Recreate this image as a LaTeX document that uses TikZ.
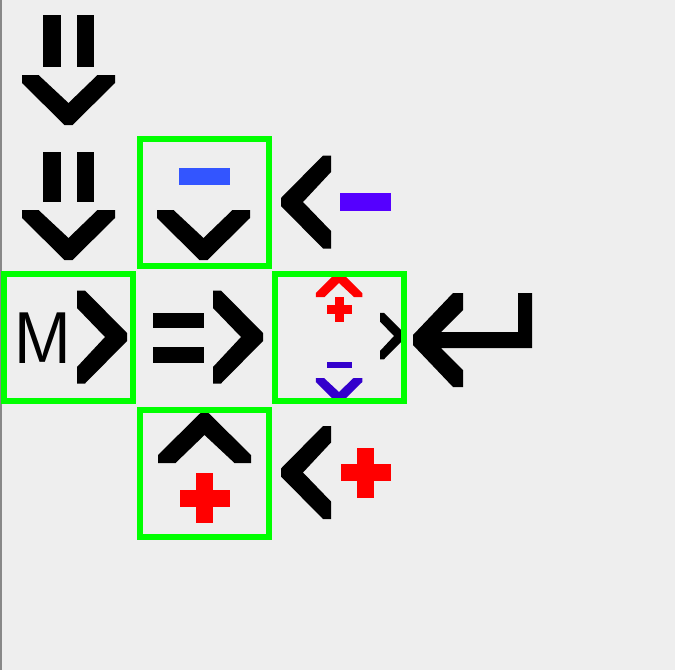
\documentclass[tikz,border=0pt]{standalone}
\usetikzlibrary{positioning}
\definecolor{bgGray}{HTML}{EEEEEE}
\definecolor{edgeGray}{HTML}{888888}
\definecolor{boxGreen}{HTML}{00FF00}
\definecolor{minusBlue}{HTML}{3355FF}
\definecolor{minusPurple}{HTML}{5500FF}
\definecolor{popPurple}{HTML}{3300CC}
\definecolor{pushRed}{HTML}{FF0000}
\tikzset{
  cellbox/.style={rectangle, draw=boxGreen, line width=6pt, inner sep=0pt,
                  minimum width=129pt, minimum height=127pt},
  chevron/.pic={
    \fill (-46.5,0) -- (-30,0) -- (0,28) -- (29,0) -- (46.5,0) -- (46.5,8)
      -- (4,50) -- (-4,50) -- (-46.5,8) -- cycle;
  },
  plus/.pic={
    \fill (-8.5,-25) rectangle (8.5,25);
    \fill (-25,-8.5) rectangle (25,8.5);
  },
}

\begin{document}
\begin{tikzpicture}[x=1pt, y=-1pt]
    \fill[bgGray] (0,0) rectangle (675,670);
    \useasboundingbox (0,0) rectangle (675,670);
    \fill[edgeGray] (0,0) rectangle (1.5,670);
    % column 0: pause + down, twice
    \fill (43,15) rectangle (61,67); \fill (77,15) rectangle (94,67);
    \pic at (68.5,75) {chevron};
    \fill (43,152) rectangle (61,202); \fill (77,152) rectangle (94,202);
    \pic at (68.5,210) {chevron};
    % top cell
    \fill[minusBlue] (179,168) rectangle (230,185);
    \pic at (203.5,210) {chevron};
    \pic[rotate=-90] at (331,202) {chevron};
    \fill[minusPurple] (340,193) rectangle (391,211);
    % middle row
    \node[font=\sffamily\fontsize{73}{73}\selectfont, inner sep=0pt,
          anchor=base west, xscale=0.98] (mlabel) at (13,363) {M};
    \pic[rotate=90] at (77,337) {chevron};
    \fill (153,313) rectangle (204,328); \fill (153,347) rectangle (204,363);
    \pic[rotate=90] at (213,337) {chevron};
    \pic[pushRed, rotate=180, scale=0.5] at (339,297) {chevron};
    \pic[pushRed, scale=0.5] at (339.5,309.5) {plus};
    \pic[rotate=90, scale=0.5] at (380,336) {chevron};
    \fill[popPurple] (327,362) rectangle (352,368);
    \pic[popPurple, scale=0.5] at (339,378) {chevron};
    % enter arrow
    \fill (413,335) -- (453,293) -- (463,293) -- (463,310) -- (441,332)
      -- (518,332) -- (518,293) -- (532,293) -- (532,348) -- (441,348)
      -- (463,370) -- (463,387) -- (453,387) -- (413,345) -- cycle;
    % bottom cell
    \pic[rotate=180] at (204.5,463) {chevron};
    \pic[pushRed] at (204.5,498) {plus};
    \pic[rotate=-90] at (331,472.5) {chevron};
    \pic[pushRed] at (365.5,472.5) {plus};
    % green boxes
    \node[cellbox] (up) at (204,202) {};
    \node[cellbox] (mode) at (68.5,337.5) {};
    \node[cellbox] (turn) at (339.5,337) {};
    \node[cellbox] (down) at (204.5,473.5) {};
\end{tikzpicture}
\end{document}
